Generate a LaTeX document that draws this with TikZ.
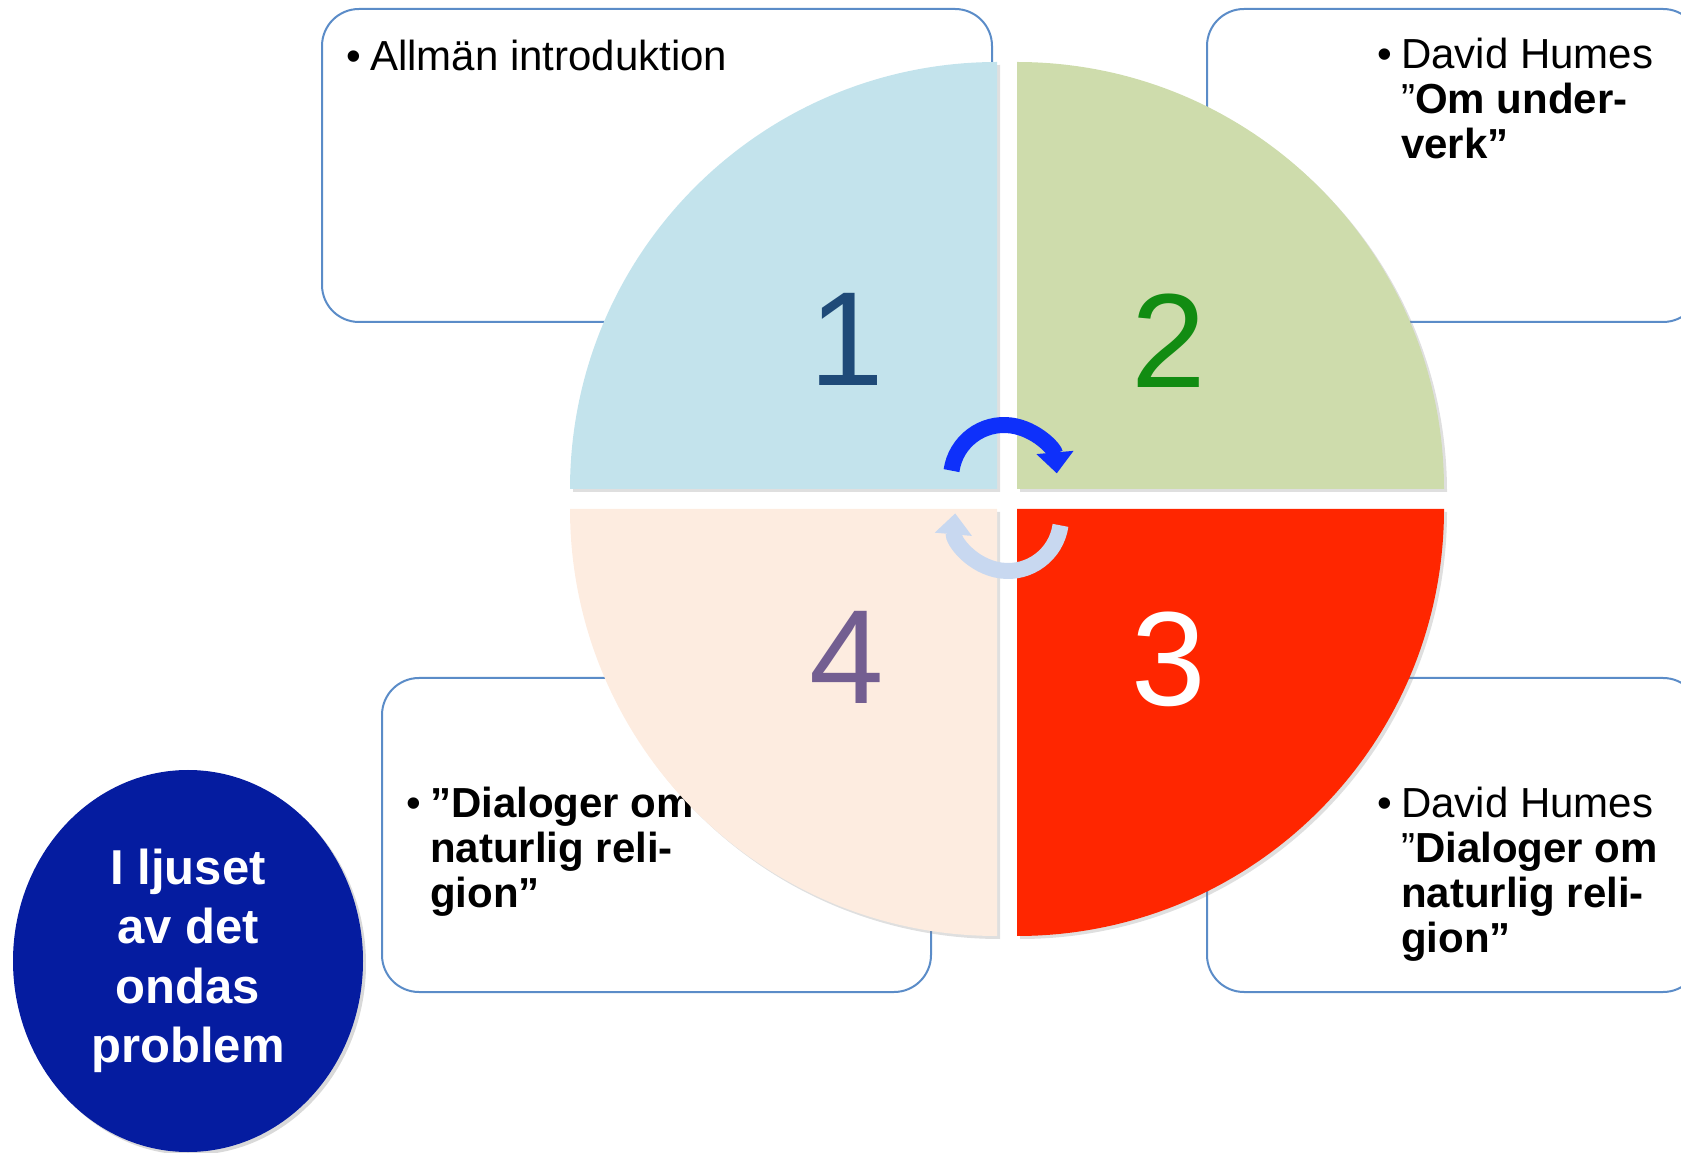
\documentclass[tikz,border=0pt]{standalone}
\usepackage{fontspec}
\setmainfont{Liberation Sans}
\usepackage{tikz}
\usetikzlibrary{arrows.meta,shadows,positioning}
\definecolor{boxline}{RGB}{91,140,200}
\definecolor{quadblue}{RGB}{195,227,236}
\definecolor{quadgreen}{RGB}{206,220,172}
\definecolor{quadred}{RGB}{255,38,0}
\definecolor{quadpeach}{RGB}{253,236,224}
\definecolor{numblue}{RGB}{31,74,120}
\definecolor{numgreen}{RGB}{18,140,18}
\definecolor{numpurple}{RGB}{115,94,145}
\definecolor{turndark}{RGB}{14,48,250}
\definecolor{turnlight}{RGB}{200,216,240}
\definecolor{themeblue}{RGB}{5,28,160}

\begin{document}
\begin{tikzpicture}[x=1pt,y=1pt,
  infobox/.style={draw=boxline,line width=2pt,rounded corners=37pt},
  boxtext/.style={anchor=north west,align=left,inner sep=0pt,font=\fontsize{42}{45}\selectfont},
  quad/.style={drop shadow={opacity=0.25,shadow xshift=3pt,shadow yshift=-3pt}},
  bignum/.style={inner sep=0pt,font=\fontsize{134}{134}\selectfont},
  turn/.style={line width=16pt,-{Triangle[width=36pt,length=21pt]}}]
\useasboundingbox (0,0) rectangle (1681,1152);

\draw[infobox] (322,830) rectangle (992,1143);
\draw[infobox] (1207,830) rectangle (1700,1143);
\draw[infobox] (1207,160) rectangle (1700,474);
\draw[infobox] (382,160) rectangle (931,474);

\node[boxtext] (intro) at (370,1112) {\llap{\textbullet\hspace{9pt}}Allmän introduktion};
\node[boxtext] (miracles) at (1401,1114) {\llap{\textbullet\hspace{9pt}}David Humes\\”\textbf{Om under-}\\\textbf{verk”}};
\node[boxtext] (dialogues) at (1401,365) {\llap{\textbullet\hspace{9pt}}David Humes\\”\textbf{Dialoger om}\\\textbf{naturlig reli-}\\\textbf{gion”}};
\node[boxtext] (dialoguestoo) at (430,365) {\llap{\textbullet\hspace{9pt}}\textbf{”Dialoger om}\\\textbf{naturlig reli-}\\\textbf{gion”}};

\fill[quad,quadblue] (997,663) -- ++(-427,0) arc (180:90:427) -- cycle;
\fill[quad,quadgreen] (1017,663) -- ++(0,427) arc (90:0:427) -- cycle;
\fill[quad,quadred] (1017,643) -- ++(427,0) arc (0:-90:427) -- cycle;
\fill[quad,quadpeach] (997,643) -- ++(0,-427) arc (-90:-180:427) -- cycle;

\node[bignum,text=numblue] (n1) at (847,813) {1};
\node[bignum,text=numgreen] (n2) at (1169,811) {2};
\node[bignum,text=white] (n3) at (1169,493) {3};
\node[bignum,text=numpurple] (n4) at (847,495) {4};

\draw[turn,turndark] (1004,674) ++(172:53) arc (172:5:53);
\draw[turn,turnlight] (1008,634) ++(-8:53) arc (-8:-185:53);

\fill[themeblue,drop shadow={opacity=0.3,shadow xshift=3pt,shadow yshift=-3pt}] (188,191) ellipse [x radius=175,y radius=191];
\node[text=white,align=center,inner sep=0pt,font=\bfseries\fontsize{49}{59.5}\selectfont] (theme) at (188,191) {I ljuset\\av det\\ondas\\problem};
\end{tikzpicture}
\end{document}
